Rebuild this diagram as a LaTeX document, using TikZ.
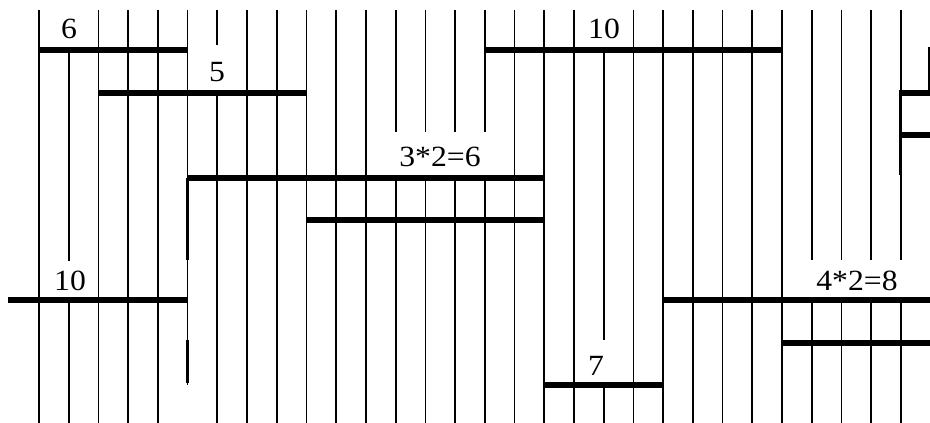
\documentclass[tikz,border=0pt]{standalone}
\usepackage{fontspec}
\setmainfont[FakeStretch=1.08]{Liberation Serif}

\begin{document}
\begin{tikzpicture}[x=0.75pt,y=-0.75pt,line cap=butt,
    rung/.style={line width=1.3pt},
    heavy/.style={line width=2.6pt},
    bar/.style={line width=4pt},
    tag/.style={inner sep=0pt,anchor=base,font=\fontsize{22}{22}\selectfont}]
  \useasboundingbox (0,0) rectangle (930,423);

  % One thin rung of the ladder: column, top, bottom.
  \newcommand{\stick}[3]{%
    \draw[rung] ({39+29.72*#1},#2)--({39+29.72*#1},#3);}

  % Rungs that run the full height.
  \foreach \k in {0,2,3,4,7,8,9,10,11,16,17,18,20,21,22,23,24,25}{
    \stick{\k}{10}{423}
  }

  % Rungs broken where a label sits.
  \stick{1}{50}{261}  \stick{1}{300}{423}
  \stick{5}{10}{385}
  \stick{6}{10}{45}   \stick{6}{93}{423}
  \foreach \k in {12,...,15}{
    \stick{\k}{10}{132} \stick{\k}{178}{423}
  }
  \stick{19}{50}{340} \stick{19}{385}{423}
  \foreach \k in {26,...,29}{
    \stick{\k}{10}{260} \stick{\k}{300}{423}
  }
  \draw[rung] (929,47)--(929,93);

  % Heavier pieces of rung.
  \draw[heavy] (187.6,178)--(187.6,260);
  \draw[heavy] (187.6,340)--(187.6,383);
  \draw[heavy] (900.4,90)--(900.4,175);

  % Bars across the rungs.
  \draw[bar] (39,50)--(188,50);
  \draw[bar] (485,50)--(782,50);
  \draw[bar] (99,93)--(307,93);
  \draw[bar] (901,93)--(930,93);
  \draw[bar] (901,135)--(930,135);
  \draw[bar] (188,178)--(544,178);
  \draw[bar] (307,220)--(544,220);
  \draw[bar] (8,300)--(188,300);
  \draw[bar] (664,300)--(930,300);
  \draw[bar] (782,343)--(930,343);
  \draw[bar] (544,385)--(664,385);

  % Labels above the bars.
  \node[tag] (six)   at (69,39)   {6};
  \node[tag] (five)  at (217,82)  {5};
  \node[tag] (three) at (440,167) {3*2=6};
  \node[tag] (tenA)  at (604,39)  {10};
  \node[tag] (tenB)  at (70,291)  {10};
  \node[tag] (seven) at (596,375) {7};
  \node[tag] (four)  at (857,291) {4*2=8};
\end{tikzpicture}
\end{document}
